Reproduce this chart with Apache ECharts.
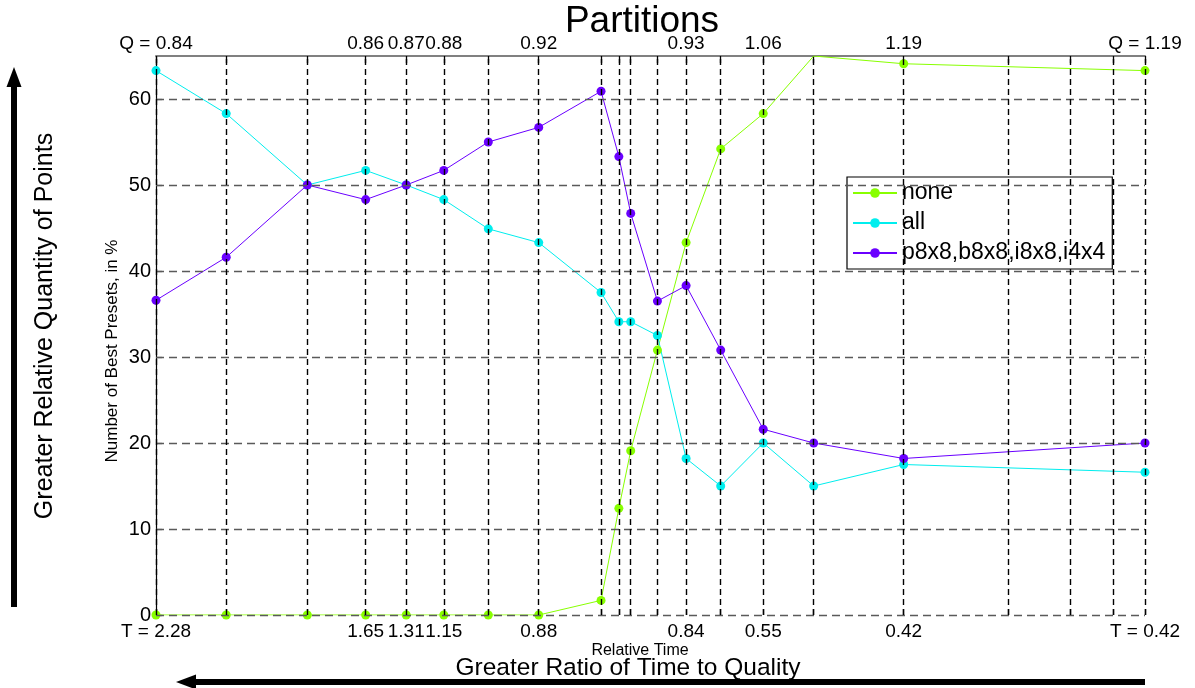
<!DOCTYPE html>
<html>
<head>
<meta charset="utf-8">
<script src="https://cdn.jsdelivr.net/npm/echarts@6/dist/echarts.min.js"></script>
<style>
html,body{margin:0;padding:0;background:#fff;}
#c{width:1195px;height:688px;}
</style>
</head>
<body>
<div id="c"></div>
<script>
// ---- data ----
const xPos = [0, 7.1, 15.3, 21.2, 25.3, 29.1, 33.6, 38.7, 45.0, 46.8, 48.0, 50.7, 53.6, 57.1, 61.4, 66.5, 75.6, 100];
const noneVals = [0, 0, 0, 0, 0, 0, 0, 0, 1.7, 12.4, 19.1, 30.8, 43.3, 54.2, 58.3, 65, 64.1, 63.3];
const allVals = [63.3, 58.3, 50, 51.7, 50, 48.3, 44.9, 43.3, 37.5, 34.1, 34.1, 32.5, 18.2, 15.0, 20.0, 15.0, 17.5, 16.6];
const partVals = [36.6, 41.6, 50, 48.3, 50, 51.7, 55.0, 56.7, 60.9, 53.3, 46.7, 36.5, 38.3, 30.8, 21.6, 20.0, 18.2, 20.0];
const seriesNames = ['none', 'all', 'p8x8,b8x8,i8x8,i4x4'];
const vLines = [0, 7.1, 15.3, 21.2, 25.3, 29.1, 33.6, 38.7, 45.0, 46.8, 48.0, 50.7, 53.6, 57.1, 61.4, 66.5, 75.6, 86.2, 92.4, 96.8, 100];
const labelPos = [0, 21.2, 25.3, 29.1, 38.7, 53.6, 61.4, 75.6, 100];
const topLabels = ['Q = 0.84', '0.86', '0.87', '0.88', '0.92', '0.93', '1.06', '1.19', 'Q = 1.19'];
const bottomLabels = ['T = 2.28', '1.65', '1.31', '1.15', '0.88', '0.84', '0.55', '0.42', 'T = 0.42'];
const yTicks = [0, 10, 20, 30, 40, 50, 60];
const Y_MAX = 65;

const colors = ['#88ff00', '#00eeee', '#6a00ff'];
const FONT = 'Liberation Sans, Arial, sans-serif';

function lab(arr) {
  return function (v) {
    let best = -1, d = 1e9;
    labelPos.forEach((p, i) => { if (Math.abs(p - v) < d) { d = Math.abs(p - v); best = i; } });
    return d < 0.01 ? arr[best] : '';
  };
}
function mk(vals) {
  return xPos.map((x, i) => {
    const item = { value: [x, vals[i]] };
    if (vals[i] >= Y_MAX) item.symbol = 'none';
    return item;
  });
}

const chart = echarts.init(document.getElementById('c'), null, { renderer: 'canvas' });
const option = {
  animation: false,
  backgroundColor: '#fff',
  textStyle: { fontFamily: FONT },
  title: {
    text: 'Partitions', left: 637, top: -2, textAlign: 'center',
    textStyle: { fontSize: 37, fontWeight: 'normal', color: '#000', fontFamily: FONT }
  },
  grid: { left: 156, right: 50, top: 56, bottom: 73, containLabel: false },
  legend: {
    orient: 'vertical', left: 847, top: 177,
    backgroundColor: '#fff', borderColor: '#000', borderWidth: 1.2,
    padding: [4, 7, 4, 5], itemGap: 6, itemWidth: 44, itemHeight: 12,
    textStyle: { fontSize: 23, color: '#000', fontFamily: FONT, lineHeight: 24 },
    data: seriesNames
  },
  xAxis: [
    {
      type: 'value', position: 'bottom', min: 0, max: 100,
      axisLine: { show: false },
      axisTick: { show: true, inside: true, length: 6, customValues: vLines, lineStyle: { color: '#000', width: 1.3 } },
      axisLabel: { customValues: labelPos, formatter: lab(bottomLabels), fontSize: 19, color: '#000', margin: 7, fontFamily: FONT },
      splitLine: { show: false }
    },
    {
      type: 'value', position: 'top', min: 0, max: 100,
      axisLine: { show: true, lineStyle: { color: '#808080', width: 2 } },
      axisTick: { show: true, inside: true, length: 7, customValues: vLines, lineStyle: { color: '#000', width: 1.3 } },
      axisLabel: { customValues: labelPos, formatter: lab(topLabels), fontSize: 19, color: '#000', margin: 3, fontFamily: FONT },
      splitLine: { show: false }
    }
  ],
  yAxis: {
    type: 'value', min: 0, max: Y_MAX,
    axisLine: { show: true, lineStyle: { color: '#000', width: 1.2 } },
    axisTick: { show: true, inside: true, length: 6, customValues: yTicks, lineStyle: { color: '#000', width: 1.2 } },
    axisLabel: { customValues: yTicks, fontSize: 20, color: '#000', margin: 5, fontFamily: FONT },
    splitLine: { show: false }
  },
  graphic: [
    {
      type: 'text', x: 112, y: 351, rotation: Math.PI / 2, silent: true,
      style: { text: 'Number of Best Presets, in %', font: '17px ' + FONT, fill: '#000', align: 'center', verticalAlign: 'middle' }
    },
    {
      type: 'text', x: 640, y: 651, silent: true,
      style: { text: 'Relative Time', font: '16px ' + FONT, fill: '#000', align: 'center', verticalAlign: 'middle' }
    },
    {
      type: 'text', x: 45, y: 326, rotation: Math.PI / 2, silent: true,
      style: { text: 'Greater Relative Quantity of Points', font: '25px ' + FONT, fill: '#000', align: 'center', verticalAlign: 'middle' }
    },
    { type: 'rect', shape: { x: 11, y: 80, width: 6, height: 527 }, style: { fill: '#000' }, silent: true },
    { type: 'polygon', shape: { points: [[14, 67], [6.5, 87], [21.5, 87]] }, style: { fill: '#000' }, silent: true },
    {
      type: 'text', x: 628, y: 668, silent: true,
      style: { text: 'Greater Ratio of Time to Quality', font: '24.5px ' + FONT, fill: '#000', align: 'center', verticalAlign: 'middle' }
    },
    { type: 'rect', shape: { x: 190, y: 679, width: 955, height: 6 }, style: { fill: '#000' }, silent: true },
    { type: 'polygon', shape: { points: [[176, 682], [196, 674.5], [196, 689.5]] }, style: { fill: '#000' }, silent: true }
  ],
  series: [
    {
      type: 'line', name: '_hgrid', data: [], z: 1, silent: true,
      markLine: {
        silent: true, symbol: ['none', 'none'], label: { show: false },
        lineStyle: { type: [8, 5], color: '#5a5a5a', width: 1.3 },
        data: yTicks.map(v => ({ yAxis: v }))
      }
    },
    {
      type: 'line', name: '_vgrid', data: [], z: 1, silent: true,
      markLine: {
        silent: true, symbol: ['none', 'none'], label: { show: false },
        lineStyle: { type: [6, 4], color: '#000', width: 1.4 },
        data: vLines.map(v => ({ xAxis: v }))
      }
    },
    {
      type: 'line', name: seriesNames[0], data: mk(noneVals), z: 3,
      symbol: 'circle', symbolSize: 9, color: colors[0],
      lineStyle: { width: 1, color: colors[0] }, itemStyle: { color: colors[0] }
    },
    {
      type: 'line', name: seriesNames[1], data: mk(allVals), z: 3,
      symbol: 'circle', symbolSize: 9, color: colors[1],
      lineStyle: { width: 1, color: colors[1] }, itemStyle: { color: colors[1] }
    },
    {
      type: 'line', name: seriesNames[2], data: mk(partVals), z: 3,
      symbol: 'circle', symbolSize: 9, color: colors[2],
      lineStyle: { width: 1, color: colors[2] }, itemStyle: { color: colors[2] }
    }
  ]
};
chart.setOption(option);
</script>
</body>
</html>
